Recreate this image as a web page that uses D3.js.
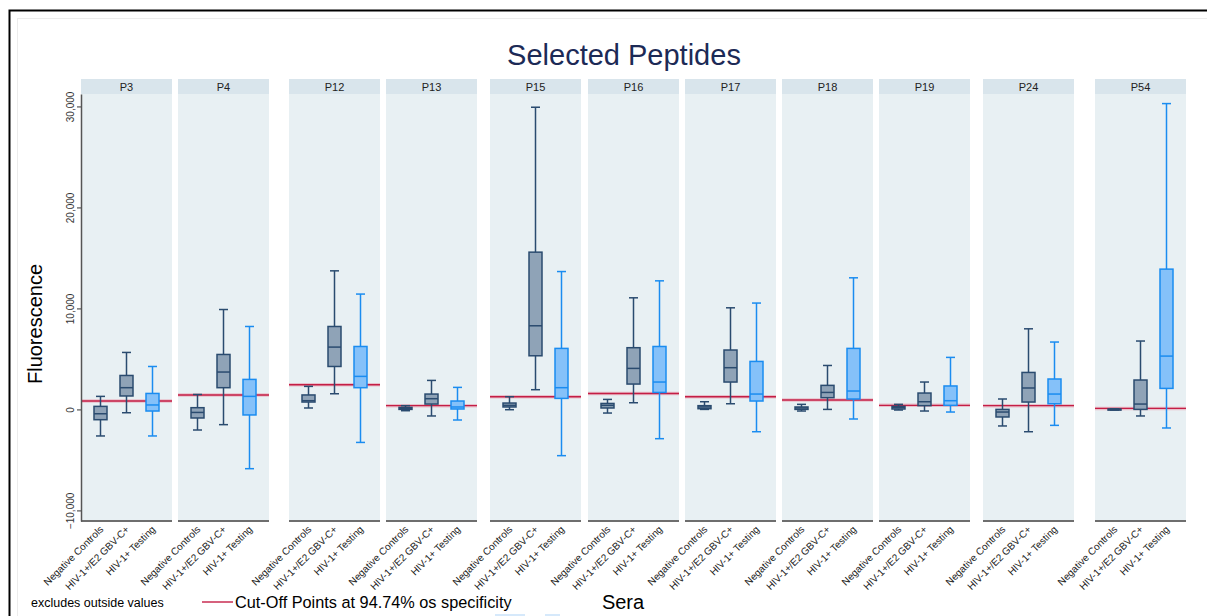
<!DOCTYPE html>
<html>
<head>
<meta charset="utf-8">
<script src="https://cdn.jsdelivr.net/npm/d3@7"></script>
<style>
  body { margin: 0; background: #fff; }
  svg { display: block; font-family: "Liberation Sans", Arial, sans-serif; }
</style>
</head>
<body>
<svg id="chart" width="1207" height="616"></svg>
<script>
// peptides (facets) and sera groups
const peptides = ["P3", "P4", "P12", "P13", "P15", "P16", "P17", "P18", "P19", "P24", "P54"];
const groups = ["Negative Controls", "HIV-1+/E2 GBV-C+", "HIV-1+ Testing"];

// box plot statistics, one row per peptide, columns follow groups
const whiskerLow = [
  [-2630, -330, -2630], [-2040, -1510, -5870], [140, 1550, -3270], [-130, -650, -1050],
  [-30, 1950, -4580], [-360, 660, -2900], [0, 560, -2210], [-160, 0, -950],
  [-60, -160, -260], [-1640, -2210, -1580], [-60, -650, -1840]
];
const q1 = [
  [-1020, 1330, -160], [-850, 2150, -550], [730, 4250, 2150], [0, 530, 40],
  [240, 5310, 1090], [140, 2510, 1680], [70, 2710, 830], [0, 1160, 1030],
  [40, 370, 400], [-750, 730, 560], [-30, 0, 2080]
];
const median = [
  [-430, 2150, 440], [-300, 3700, 1290], [860, 6170, 3270], [100, 1060, 240],
  [400, 8280, 2150], [400, 4060, 2710], [240, 4130, 1520], [140, 1680, 1820],
  [200, 760, 860], [-260, 2120, 1520], [0, 530, 5280]
];
const q3 = [
  [300, 3360, 1580], [170, 5440, 2970], [1430, 8210, 6230], [200, 1520, 830],
  [630, 15570, 6040], [590, 6110, 6230], [370, 5880, 4750], [240, 2380, 6040],
  [300, 1620, 2320], [0, 3660, 3010], [30, 2910, 13890]
];
const whiskerHigh = [
  [1290, 5640, 4250], [1480, 9890, 8210], [2280, 13720, 11420], [370, 2870, 2180],
  [1260, 29920, 13650], [990, 11050, 12730], [760, 10060, 10530], [500, 4350, 13030],
  [500, 2710, 5150], [1030, 7980, 6670], [60, 6770, 30280]
];
// cut-off points at 94.74% specificity
const cutoff = [830, 1430, 2440, 370, 1260, 1580, 1260, 930, 400, 370, 100];

const yTicks = [-10000, 0, 10000, 20000, 30000];

// layout
const panelLeft = [81, 178, 289, 386, 490, 588, 685, 782, 879, 983, 1095];
const panelW = 91;
const stripTop = 79, plotTop = 94, plotBottom = 521;

const svg = d3.select("#chart");

// outer frame
svg.append("rect").attr("x", 9.5).attr("y", 10.5).attr("width", 1300).attr("height", 700)
  .attr("fill", "none").attr("stroke", "#000").attr("stroke-width", 2);
svg.append("rect").attr("x", 17.5).attr("y", 18.5).attr("width", 1300).attr("height", 700)
  .attr("fill", "none").attr("stroke", "#ececec").attr("stroke-width", 1);

const y = d3.scaleLinear().domain([-11050, 31230]).range([plotBottom, plotTop]);
const x = d3.scalePoint().domain(groups).range([0, panelW]).padding(0.75);

const colors = {
  dark: { fill: "#8fa3b7", stroke: "#2a4b6f" },
  blue: { fill: "#85c1f9", stroke: "#1a8cf0" }
};
const styleOf = gi => gi < 2 ? colors.dark : colors.blue;

const boxW = 13, capW = 9;

peptides.forEach((p, pi) => {
  const g = svg.append("g").attr("transform", `translate(${panelLeft[pi]},0)`);

  // strip and panel background
  g.append("rect").attr("x", 0).attr("y", stripTop).attr("width", panelW)
    .attr("height", plotTop - stripTop).attr("fill", "#d9e5ec");
  g.append("rect").attr("x", 0).attr("y", plotTop).attr("width", panelW)
    .attr("height", plotBottom - plotTop).attr("fill", "#e8f0f3");
  g.append("text").attr("x", panelW / 2).attr("y", stripTop + 11.5)
    .attr("text-anchor", "middle").attr("font-size", 11).attr("fill", "#222")
    .text(p);

  // cut-off line
  g.append("line").attr("x1", 0).attr("x2", panelW)
    .attr("y1", y(cutoff[pi])).attr("y2", y(cutoff[pi]))
    .attr("stroke", "#e8a0b0").attr("stroke-width", 3.5).attr("opacity", 0.6);
  g.append("line").attr("x1", 0).attr("x2", panelW)
    .attr("y1", y(cutoff[pi])).attr("y2", y(cutoff[pi]))
    .attr("stroke", "#c41e45").attr("stroke-width", 1.4);

  // boxes
  groups.forEach((grp, gi) => {
    const cx = x(grp);
    const st = styleOf(gi);
    const bg = g.append("g").attr("stroke", st.stroke).attr("stroke-width", 1.5);
    bg.append("line").attr("x1", cx).attr("x2", cx)
      .attr("y1", y(whiskerHigh[pi][gi])).attr("y2", y(q3[pi][gi]));
    bg.append("line").attr("x1", cx).attr("x2", cx)
      .attr("y1", y(q1[pi][gi])).attr("y2", y(whiskerLow[pi][gi]));
    [whiskerHigh[pi][gi], whiskerLow[pi][gi]].forEach(v => {
      bg.append("line").attr("x1", cx - capW / 2).attr("x2", cx + capW / 2)
        .attr("y1", y(v)).attr("y2", y(v));
    });
    bg.append("rect").attr("x", cx - boxW / 2).attr("y", y(q3[pi][gi]))
      .attr("width", boxW).attr("height", Math.max(1, y(q1[pi][gi]) - y(q3[pi][gi])))
      .attr("fill", st.fill);
    bg.append("line").attr("x1", cx - boxW / 2).attr("x2", cx + boxW / 2)
      .attr("y1", y(median[pi][gi])).attr("y2", y(median[pi][gi]));
  });

  // x axis
  const ax = g.append("g").attr("transform", `translate(0,${plotBottom})`)
    .call(d3.axisBottom(x).tickSize(0).tickSizeOuter(0));
  ax.select(".domain").attr("stroke", "#6e6e6e").attr("stroke-width", 2)
    .attr("d", `M0,0H${panelW}`);
  ax.selectAll("text")
    .attr("x", 0).attr("y", 0).attr("dy", 0)
    .attr("transform", "translate(3,9) rotate(-45)")
    .style("text-anchor", "end")
    .attr("font-size", 10).attr("fill", "#222")
    .attr("font-family", "Liberation Sans, Arial, sans-serif");
});

// y axis
const yAx = svg.append("g").attr("transform", `translate(${panelLeft[0]},0)`)
  .call(d3.axisLeft(y).tickValues(yTicks).tickFormat(d3.format(",")).tickSize(4).tickSizeOuter(0));
yAx.select(".domain").attr("stroke", "#555").attr("stroke-width", 1.5);
yAx.selectAll(".tick line").attr("stroke", "#555").attr("stroke-width", 1.2);
yAx.selectAll("text")
  .attr("x", 0).attr("y", -7).attr("dy", 0)
  .attr("transform", "rotate(-90)")
  .style("text-anchor", "middle")
  .attr("font-size", 10).attr("fill", "#333")
  .attr("font-family", "Liberation Sans, Arial, sans-serif");

// titles
svg.append("text").attr("x", 624).attr("y", 65).attr("text-anchor", "middle")
  .attr("font-size", 29).attr("fill", "#1c2a56").text("Selected Peptides");
svg.append("text").attr("transform", "translate(42,324) rotate(-90)")
  .attr("text-anchor", "middle").attr("font-size", 20).attr("fill", "#000")
  .text("Fluorescence");
svg.append("text").attr("x", 623).attr("y", 609).attr("text-anchor", "middle")
  .attr("font-size", 20).attr("fill", "#000").text("Sera");

// notes and legend
svg.append("text").attr("x", 31).attr("y", 607).attr("font-size", 12.5)
  .attr("fill", "#000").text("excludes outside values");
svg.append("line").attr("x1", 202).attr("x2", 233).attr("y1", 602).attr("y2", 602)
  .attr("stroke", "#c41e45").attr("stroke-width", 1.4);
svg.append("text").attr("x", 235).attr("y", 608).attr("font-size", 16.3)
  .attr("fill", "#000").text("Cut-Off Points at 94.74% os specificity");
svg.append("rect").attr("x", 495).attr("y", 614).attr("width", 30).attr("height", 3).attr("fill", "#d6e9fb");
svg.append("rect").attr("x", 545).attr("y", 614).attr("width", 15).attr("height", 3).attr("fill", "#d6e9fb");
</script>
</body>
</html>
